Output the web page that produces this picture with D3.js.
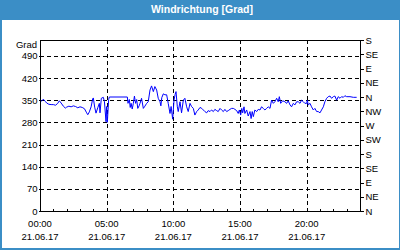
<!DOCTYPE html>
<html>
<head>
<meta charset="utf-8">
<script src="https://cdn.jsdelivr.net/npm/d3@7"></script>
<style>
  html, body { margin: 0; padding: 0; background: #fff; }
  svg { display: block; }
</style>
</head>
<body>
<svg id="chart" width="400" height="250"></svg>
<script>
// Messzeiten (21.06.17) und Windrichtung in Grad
var times = ["00:00","00:08","00:15","00:24","00:30","00:40","00:50","01:00","01:10","01:20","01:27","01:35","01:45","01:54",
  "02:00","02:10","02:20","02:30","02:40","02:50","03:00","03:10","03:20","03:30","03:35","03:42","03:50","03:57",
  "04:00","04:06","04:12","04:20","04:27","04:30","04:36","04:45","04:50","04:57","05:00","05:03","05:09","05:12",
  "06:33","06:36","06:42","06:46","06:50","06:55","07:00","07:05","07:10","07:15","07:20","07:26","07:30","07:37",
  "07:45","07:52","08:00","08:07","08:15","08:22","08:30","08:37","08:45","08:52","09:00","09:04","09:08","09:15",
  "09:22","09:30","09:37","09:45","09:50","09:57","10:03","10:08","10:12","10:18","10:22","10:30","10:37","10:45",
  "10:52","11:00","11:07","11:15","11:22","11:30","11:37","11:45","11:52","12:00","12:08","12:15","12:22","12:30",
  "12:37","12:45","12:52","13:00","13:07","13:15","13:22","13:30","13:37","13:45","13:52","14:00","14:07","14:15",
  "14:22","14:30","14:37","14:45","14:52","14:57","15:03","15:08","15:12","15:18","15:22","15:30","15:37","15:45",
  "15:50","15:55","16:00","16:07","16:15","16:22","16:30","16:37","16:45","16:52","17:00","17:07","17:15","17:22",
  "17:30","17:37","17:45","17:52","17:57","18:03","18:12","18:22","18:30","18:37","18:45","18:52","19:00","19:07",
  "19:15","19:22","19:30","19:37","19:45","19:52","20:00","20:03","20:07","20:15","20:22","20:30","20:37","20:45",
  "20:52","21:00","21:07","21:15","21:22","21:30","21:37","21:45","21:52","22:00","22:07","22:15","22:22","22:30",
  "22:37","22:45","22:52","23:00","23:15","23:30","23:45"];
var grad = [344,348,353,346,341,337,336,336,334,340,348,341,331,325,
  328,331,329,332,330,326,329,327,323,310,304,313,329,354,
  357,328,309,326,340,310,356,359,345,282,330,280,352,360,
  360,340,352,327,340,322,340,363,340,352,324,332,340,356,
  324,331,340,345,382,395,377,393,382,356,345,332,358,370,
  367,367,340,308,330,290,350,368,377,329,314,345,310,350,
  356,329,314,340,330,324,303,314,319,327,324,319,314,310,
  317,314,319,314,321,317,314,324,319,314,321,314,317,321,
  324,324,321,317,308,319,303,324,310,329,308,319,300,314,
  292,314,298,319,314,321,319,329,324,319,324,329,324,350,
  340,345,356,345,361,340,348,345,340,348,335,329,340,335,
  345,345,340,350,345,340,340,350,335,340,329,319,324,314,
  314,310,319,329,345,356,361,363,356,361,363,350,361,356,
  361,359,364,361,361,359,359];

var leftTicks = [0,70,140,210,280,350,420,490];
var rightTicks = [0,45,90,135,180,225,270,315,360,405,450,495,540];
var rightLabels = ["N","NE","E","SE","S","SW","W","NW","N","NE","E","SE","S"];
var majorHours = ["00:00","05:00","10:00","15:00","20:00"];
var dayLabel = "21.06.17";

var svg = d3.select("#chart");
var W = 400, H = 250;
var blue = "#3b8ec6";
var font = "'Liberation Sans', Arial, sans-serif";

// Rahmen + Titelleiste
svg.append("rect").attr("width", W).attr("height", H).attr("fill", blue);
svg.append("rect").attr("x", 2).attr("y", 20).attr("width", W - 3).attr("height", H - 22).attr("fill", "#fff");
svg.append("text").attr("x", 202).attr("y", 13).attr("text-anchor", "middle")
  .attr("font-family", font).attr("font-weight", "bold").attr("font-size", 10.5)
  .attr("fill", "#fff").text("Windrichtung [Grad]");

var pLeft = 40, pRight = 360, pTop = 40, pBottom = 211;
var parse = d3.timeParse("%d.%m.%y %H:%M");
var data = times.map(function(t, i) { return {t: parse(dayLabel + " " + t), v: grad[i]}; });
var day0 = parse(dayLabel + " 00:00");

var x = d3.scaleTime().domain([day0, d3.timeDay.offset(day0, 1)]).range([pLeft, pRight]);
var y = d3.scaleLinear().domain([0, 540]).range([pBottom, pTop]);

var g = svg.append("g").attr("shape-rendering", "crispEdges");

// Gitter
g.selectAll(".hgrid").data(leftTicks.filter(function(d){ return d > 0; })).enter()
  .append("line").attr("class", "hgrid")
  .attr("x1", pLeft).attr("x2", pRight)
  .attr("y1", function(d){ return Math.round(y(d)) + 0.5; })
  .attr("y2", function(d){ return Math.round(y(d)) + 0.5; })
  .attr("stroke", "#000").attr("stroke-dasharray", "4,3");

g.selectAll(".vgrid").data(majorHours.slice(1)).enter()
  .append("line").attr("class", "vgrid")
  .attr("x1", function(d){ return Math.round(x(parse(dayLabel + " " + d))) + 0.5; })
  .attr("x2", function(d){ return Math.round(x(parse(dayLabel + " " + d))) + 0.5; })
  .attr("y1", pTop).attr("y2", pBottom)
  .attr("stroke", "#000").attr("stroke-dasharray", "4,3");

// Linie
svg.append("path").datum(data)
  .attr("fill", "none").attr("stroke", "#0000ff").attr("stroke-width", 1)
  .attr("d", d3.line().x(function(d){ return x(d.t); }).y(function(d){ return y(d.v); }));

// Achsen
var yl = svg.append("g").attr("transform", "translate(" + (pLeft + 0.5) + ",0)")
  .call(d3.axisLeft(y).tickValues(leftTicks).tickSize(2).tickPadding(1));
var yr = svg.append("g").attr("transform", "translate(" + (pRight + 0.5) + ",0)")
  .call(d3.axisRight(y).tickValues(rightTicks).tickSize(3).tickPadding(2)
    .tickFormat(function(d, i){ return rightLabels[i]; }));
var xa = svg.append("g").attr("transform", "translate(0," + (pBottom + 0.5) + ")")
  .call(d3.axisBottom(x).ticks(d3.timeHour.every(1)).tickSize(-3).tickFormat(""));

[yl, yr, xa].forEach(function(a) {
  a.attr("shape-rendering", "crispEdges");
  a.select(".domain").remove();
  a.selectAll("line").attr("stroke", "#000");
  a.selectAll("text").attr("font-family", font).attr("font-size", 9.5).attr("fill", "#000");
});

// Plotrahmen
svg.append("rect").attr("x", pLeft + 0.5).attr("y", pTop + 0.5)
  .attr("width", pRight - pLeft).attr("height", pBottom - pTop)
  .attr("fill", "none").attr("stroke", "#000").attr("shape-rendering", "crispEdges");

svg.append("text").attr("x", 37).attr("y", y(540) + 8).attr("text-anchor", "end")
  .attr("font-family", font).attr("font-size", 9.5).text("Grad");

// Zeitbeschriftung, zweizeilig
var lab = svg.selectAll(".xlab").data(majorHours).enter().append("g").attr("class", "xlab")
  .attr("transform", function(d){ return "translate(" + x(parse(dayLabel + " " + d)) + ",0)"; });
lab.append("text").attr("y", 227).attr("text-anchor", "middle")
  .attr("font-family", font).attr("font-size", 9.5).text(function(d){ return d; });
lab.append("text").attr("y", 240).attr("text-anchor", "middle")
  .attr("font-family", font).attr("font-size", 9.5).text(dayLabel);
</script>
</body>
</html>
